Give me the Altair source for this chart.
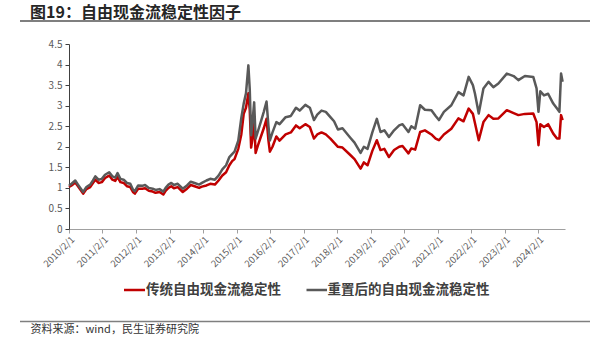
import altair as alt
import pandas as pd

# ---------------- data ----------------
dates = [
    "2010-02-01", "2010-03-01", "2010-04-10", "2010-05-10", "2010-06-10", "2010-07-05",
    "2010-08-10", "2010-09-20", "2010-10-20", "2010-11-15", "2010-12-20", "2011-01-25",
    "2011-03-01", "2011-04-15", "2011-05-20", "2011-06-20", "2011-07-15", "2011-08-15",
    "2011-09-20", "2011-10-25", "2011-12-01", "2011-12-30", "2012-01-20", "2012-02-25",
    "2012-04-10", "2012-05-10", "2012-06-20", "2012-08-01", "2012-09-01", "2012-10-15",
    "2012-11-25", "2012-12-20", "2013-01-20", "2013-02-20", "2013-03-20", "2013-05-01",
    "2013-06-25", "2013-08-10", "2013-09-20", "2013-11-01", "2013-12-20", "2014-01-20",
    "2014-03-10", "2014-04-20", "2014-06-10", "2014-07-20", "2014-08-30", "2014-10-10",
    "2014-11-15", "2014-12-15", "2015-01-10", "2015-02-20", "2015-03-25", "2015-04-20",
    "2015-05-15", "2015-06-10", "2015-06-25", "2015-07-10", "2015-07-25", "2015-08-12",
    "2015-08-28", "2015-09-25", "2015-10-25", "2015-11-25", "2015-12-25", "2016-01-15",
    "2016-01-30", "2016-02-28", "2016-04-10", "2016-05-15", "2016-07-20", "2016-09-15",
    "2016-11-10", "2016-12-20", "2017-02-20", "2017-04-10", "2017-05-25", "2017-06-30",
    "2017-08-15", "2017-10-01", "2017-11-20", "2017-12-30", "2018-02-10", "2018-04-01",
    "2018-06-25", "2018-08-10", "2018-10-15", "2018-11-20", "2018-12-30", "2019-02-20",
    "2019-04-10", "2019-05-20", "2019-07-01", "2019-08-20", "2019-10-15", "2019-12-10",
    "2020-01-15", "2020-03-20", "2020-04-20", "2020-06-01", "2020-07-25", "2020-09-15",
    "2020-11-25", "2021-01-10", "2021-02-15", "2021-04-10", "2021-06-30", "2021-09-15",
    "2021-11-10", "2022-01-05", "2022-02-20", "2022-03-15", "2022-04-25", "2022-06-15",
    "2022-08-10", "2022-10-01", "2022-11-25", "2023-02-25", "2023-05-10", "2023-07-01",
    "2023-09-10", "2023-12-10", "2024-01-15", "2024-02-05", "2024-02-25", "2024-04-05",
    "2024-05-20", "2024-07-15", "2024-08-25", "2024-09-20", "2024-10-08", "2024-10-25",
]

reset_values = [
    1.05, 1.10, 1.18, 1.08, 0.98, 0.90,
    1.02, 1.08, 1.18, 1.28, 1.20, 1.22,
    1.32, 1.38, 1.28, 1.25, 1.36, 1.22,
    1.20, 1.12, 1.10, 0.96, 0.92, 1.06,
    1.05, 1.07, 1.00, 0.98, 0.95, 0.97,
    0.91, 1.00, 1.08, 1.12, 1.07, 1.10,
    0.98, 1.06, 1.15, 1.12, 1.08, 1.12,
    1.18, 1.22, 1.20, 1.30, 1.45, 1.55,
    1.75, 1.82, 1.88, 2.15, 2.70, 3.05,
    3.30, 3.98, 3.40, 2.28, 2.60, 3.08,
    2.20, 2.40, 2.62, 2.85, 3.10, 2.50,
    2.15, 2.35, 2.60, 2.55, 2.72, 2.75,
    2.95, 2.88, 3.02, 2.95, 2.65, 2.78,
    2.88, 2.85, 2.72, 2.62, 2.42, 2.45,
    2.22, 2.10, 1.85, 2.00, 1.95, 2.35,
    2.68, 2.36, 2.40, 2.24, 2.40, 2.52,
    2.55, 2.36, 2.50, 2.44, 3.01, 2.90,
    2.89, 2.75, 2.65, 2.85, 3.01, 3.33,
    3.25, 3.70, 3.50, 3.29, 2.81, 3.42,
    3.58, 3.45, 3.54, 3.78, 3.72, 3.62,
    3.72, 3.70, 3.42, 2.85, 3.35, 3.25,
    3.29, 3.05, 2.93, 2.85, 3.78, 3.58,
]

traditional_values = [
    1.02, 1.06, 1.13, 1.04, 0.94, 0.86,
    0.97, 1.02, 1.12, 1.20, 1.12, 1.14,
    1.24, 1.30, 1.20, 1.17, 1.27, 1.14,
    1.12, 1.04, 1.02, 0.90, 0.86, 0.98,
    0.98, 0.99, 0.93, 0.91, 0.88, 0.90,
    0.84, 0.93, 1.00, 1.04, 0.99, 1.02,
    0.90, 0.98, 1.07, 1.04, 1.00, 1.03,
    1.06, 1.10, 1.08, 1.18, 1.30, 1.38,
    1.55, 1.65, 1.70, 1.95, 2.30, 2.80,
    2.95, 3.30, 2.90, 1.98, 2.20, 2.62,
    1.85, 2.05, 2.25, 2.45, 2.68, 2.15,
    1.88, 2.00, 2.25, 2.15, 2.30, 2.35,
    2.52, 2.45, 2.55, 2.48, 2.20, 2.30,
    2.35, 2.30, 2.20, 2.10, 2.00, 1.98,
    1.80, 1.70, 1.47, 1.62, 1.55, 1.90,
    2.16, 1.92, 1.95, 1.75, 1.92, 2.00,
    2.02, 1.84, 1.96, 1.93, 2.36, 2.40,
    2.30, 2.20, 2.16, 2.30, 2.44, 2.69,
    2.62, 2.93, 2.80, 2.57, 2.16, 2.60,
    2.77, 2.68, 2.69, 2.89, 2.82, 2.77,
    2.80, 2.81, 2.60, 2.04, 2.55, 2.48,
    2.55, 2.32, 2.20, 2.20, 2.77, 2.65,
]

series_names = ["传统自由现金流稳定性", "重置后的自由现金流稳定性"]
series_colors = ["#C00000", "#595959"]
tick_years = list(range(2010, 2025))
y_ticks = [0, 0.5, 1, 1.5, 2, 2.5, 3, 3.5, 4, 4.5]

title_text = "图19：自由现金流稳定性因子"
source_text = "资料来源：wind，民生证券研究院"

FONT = "Noto Sans CJK SC"

# ---------------- chart ----------------
local_dates = [d + "T00:00:00" for d in dates]
df_trad = pd.DataFrame({"date": local_dates, "value": traditional_values})
df_reset = pd.DataFrame({"date": local_dates, "value": reset_values})

x_enc = alt.X(
    "date:T",
    title=None,
    scale=alt.Scale(
        domain=[alt.DateTime(year=2010, month=2, date=1),
                alt.DateTime(year=2024, month=11, date=20)]
    ),
    axis=alt.Axis(
        values=[alt.DateTime(year=y, month=2, date=1) for y in tick_years],
        format="%Y/%-m/%-d",
        labelAngle=-45,
        labelOverlap=False,
        labelFontSize=9.5,
        labelColor="#595959",
        labelFont=FONT,
        labelPadding=1,
        domainColor="#A0A0A0",
        domainWidth=1.2,
        tickColor="#A0A0A0",
        tickSize=4,
        grid=False,
    ),
)
y_enc = alt.Y(
    "value:Q",
    title=None,
    scale=alt.Scale(domain=[0, 4.5], nice=False, zero=True),
    axis=alt.Axis(
        values=y_ticks,
        format="~g",
        labelOverlap=False,
        labelFontSize=10,
        labelColor="#595959",
        labelFont=FONT,
        labelPadding=3,
        domainColor="#404040",
        tickColor="#404040",
        tickSize=4,
        grid=False,
    ),
)

line_trad = alt.Chart(df_trad).mark_line(
    color=series_colors[0], strokeWidth=2.5, strokeJoin="round"
).encode(x=x_enc, y=y_enc)

line_reset = alt.Chart(df_reset).mark_line(
    color=series_colors[1], strokeWidth=2.5, strokeJoin="round"
).encode(x=x_enc, y=y_enc)

one = pd.DataFrame({"k": [0]})

def text_mark(txt, x, y, size, weight="normal", color="#333333"):
    return alt.Chart(pd.DataFrame({"t": [txt]})).mark_text(
        align="left", baseline="middle", font=FONT, fontSize=size,
        fontWeight=weight, color=color
    ).encode(text="t:N", x=alt.value(x), y=alt.value(y))

def hrule(x1, x2, y, color, width):
    return alt.Chart(one).mark_rule(color=color, strokeWidth=width).encode(
        x=alt.value(x1), x2=alt.value(x2), y=alt.value(y)
    )

# origin of the plot area is at (69, 44) in the page
title = text_mark(title_text, -39, -31.5, 16, "bold", "#262626")
title_line = hrule(-49, 521, -23, "#7F7F7F", 2)
source = text_mark(source_text, -38.5, 286, 11, "normal", "#333333")
source_line = hrule(-49, 521, 277.5, "#7F7F7F", 1.5)

leg_r_line = hrule(55, 76, 246, series_colors[0], 2.5)
leg_r_text = text_mark(series_names[0], 77, 246, 13.5, "bold", "#404040")
leg_g_line = hrule(237.5, 258, 246, series_colors[1], 2.5)
leg_g_text = text_mark(series_names[1], 258.5, 246, 13.5, "bold", "#404040")

chart = alt.layer(
    line_trad, line_reset,
    title, title_line, source, source_line,
    leg_r_line, leg_r_text, leg_g_line, leg_g_text,
).properties(
    width=496,
    height=185,
    autosize=alt.AutoSizeParams(type="none"),
    padding={"left": 69, "top": 44, "right": 44, "bottom": 123},
    background="white",
).configure_view(stroke=None)

chart.save("out.html", embed_options={"renderer": "svg", "actions": False})
